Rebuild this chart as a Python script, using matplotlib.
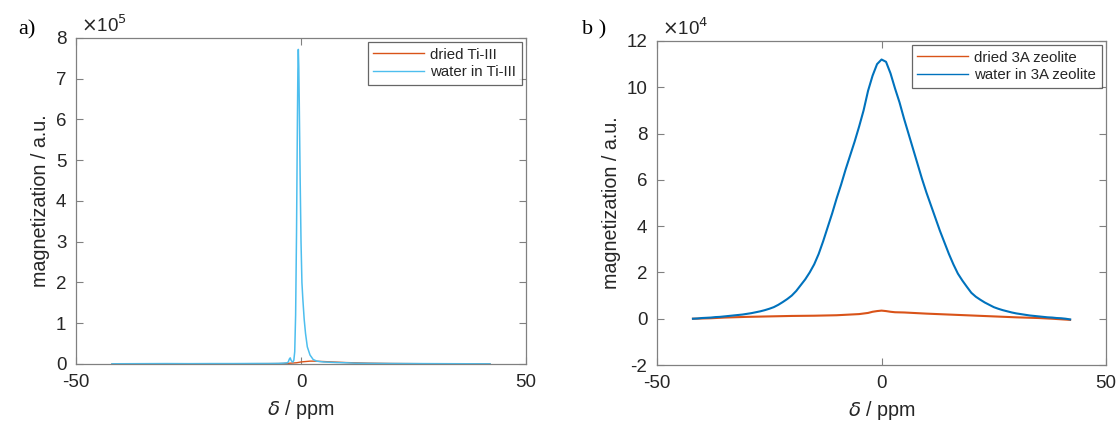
import matplotlib
matplotlib.use("Agg")
import matplotlib.pyplot as plt

# ---------------- data ----------------
# Panel a (units of 1e5)
a_water_x = [-42, -35, -30, -25, -20, -15, -10, -7, -5, -4, -3, -2.8, -2.6, -2.4, -2.2, -2.0, -1.8, -1.6,
             -1.4, -1.2, -1.0, -0.8, -0.7, -0.6, -0.5, -0.4, -0.2, 0.0, 0.2, 0.4, 0.7, 1.0, 1.4, 2.0,
             2.7, 3.5, 4.2, 5.0, 6.0, 8.0, 10, 12, 16, 20, 25, 30, 35, 42]
a_water_y = [0.005, 0.008, 0.01, 0.008, 0.01, 0.01, 0.012, 0.012, 0.015, 0.02, 0.03, 0.06, 0.12, 0.15, 0.09,
             0.06, 0.05, 0.09, 0.3, 1.2, 3.2, 6.0, 7.2, 7.72, 7.3, 6.5, 4.6, 3.0, 2.0, 1.6, 1.1, 0.75, 0.42,
             0.22, 0.11, 0.07, 0.06, 0.05, 0.045, 0.035, 0.03, 0.02, 0.015, 0.012, 0.01, 0.008, 0.006, 0.004]
a_dried_x = [-42, -30, -20, -10, -5, -3, -1, 0, 1, 2, 3, 5, 7, 10, 15, 20, 30, 42]
a_dried_y = [0.0, 0.003, 0.005, 0.008, 0.01, 0.015, 0.03, 0.05, 0.06, 0.07, 0.07, 0.06, 0.05, 0.035, 0.02,
             0.012, 0.005, 0.0]

# Panel b (units of 1e4), sampled every 1 ppm from -42 to 42
b_water_x = list(range(-42, 43))
b_water_y = [0.0, 0.01, 0.03, 0.04, 0.05, 0.07, 0.08, 0.1, 0.12, 0.14, 0.16, 0.18, 0.21, 0.24, 0.28,
             0.32, 0.37, 0.43, 0.5, 0.6, 0.72, 0.85, 1.0, 1.2, 1.45, 1.7, 2.0, 2.35, 2.8, 3.35, 3.95,
             4.55, 5.2, 5.8, 6.45, 7.05, 7.65, 8.3, 9.0, 9.85, 10.5, 11.0, 11.2, 11.1, 10.6, 9.95,
             9.35, 8.65, 8.0, 7.35, 6.7, 6.05, 5.45, 4.9, 4.35, 3.8, 3.3, 2.8, 2.35, 1.95, 1.65, 1.38,
             1.12, 0.95, 0.82, 0.7, 0.6, 0.5, 0.43, 0.37, 0.32, 0.27, 0.23, 0.2, 0.17, 0.14, 0.12, 0.1,
             0.08, 0.06, 0.05, 0.03, 0.02, 0.0, -0.03]
b_dried_x = [-42, -38, -35, -30, -25, -20, -15, -10, -5, -3, -2, -1, 0, 1, 2, 3, 5, 10, 15, 20, 25, 30,
             35, 38, 42]
b_dried_y = [0.0, 0.02, 0.05, 0.08, 0.1, 0.12, 0.13, 0.15, 0.2, 0.25, 0.3, 0.33, 0.35, 0.33, 0.3, 0.28,
             0.27, 0.22, 0.18, 0.14, 0.1, 0.06, 0.03, 0.0, -0.05]

a_yticks = [0, 1, 2, 3, 4, 5, 6, 7, 8]
b_yticks = [-2, 0, 2, 4, 6, 8, 10, 12]
x_ticks = [-50, 0, 50]

# ---------------- style ----------------
ORANGE = (0.85, 0.325, 0.098)
LIGHTBLUE = (0.301, 0.745, 0.933)
BLUE = (0.0, 0.447, 0.741)
FRAME = "#808080"
TXT = "#262626"
SANS = "Liberation Sans"
SERIF = "Liberation Serif"

plt.rcParams["font.family"] = SANS

fig = plt.figure(figsize=(11.18, 4.23), dpi=100)
fig.patch.set_facecolor("white")

axA = fig.add_axes([0.068, 0.1395, 0.4025, 0.7707])
axB = fig.add_axes([0.5877, 0.1371, 0.4016, 0.766])


def style(ax, yticks, ylim, exp):
    ax.set_xlim(-50, 50)
    ax.set_ylim(*ylim)
    ax.set_xticks(x_ticks)
    ax.set_xticklabels([str(t) for t in x_ticks])
    ax.set_yticks(yticks)
    ax.set_yticklabels([str(t) for t in yticks])
    ax.tick_params(direction="in", top=True, right=True, length=5, width=0.8,
                   colors=FRAME, labelcolor=TXT, labelsize=13.5)
    ax.tick_params(axis="x", pad=7)
    ax.tick_params(axis="y", pad=7)
    for s in ax.spines.values():
        s.set_color(FRAME)
        s.set_linewidth(0.9)
    ax.set_ylabel("magnetization / a.u.", fontsize=14.2, color=TXT, labelpad=4)
    ax.set_xlabel(r"$\delta$ / ppm", fontsize=14.2, color=TXT, labelpad=5)
    ax.text(0.01, 1.005, r"$\times$10$^{%d}$" % exp, transform=ax.transAxes,
            fontsize=13.5, color=TXT, ha="left", va="bottom")


axA.plot(a_dried_x, a_dried_y, color=ORANGE, lw=1.0, label="dried Ti-III")
axA.plot(a_water_x, a_water_y, color=LIGHTBLUE, lw=1.1, label="water in Ti-III")
style(axA, a_yticks, (0, 8), 5)

axB.plot(b_dried_x, b_dried_y, color=ORANGE, lw=1.5, label="dried 3A zeolite")
axB.plot(b_water_x, b_water_y, color=BLUE, lw=1.5, label="water in 3A zeolite")
style(axB, b_yticks, (-2, 12), 4)

for ax in (axA, axB):
    leg = ax.legend(loc="upper right", fontsize=10.8, frameon=True, fancybox=False,
                    handlelength=3.4, handletextpad=0.4, borderaxespad=0.3,
                    borderpad=0.35, labelspacing=0.25)
    leg.get_frame().set_edgecolor("#404040")
    leg.get_frame().set_linewidth(0.9)
    for t in leg.get_texts():
        t.set_color(TXT)
    for l in leg.get_lines():
        l.set_linewidth(1.0)

fig.text(18 / 1118, 1 - 30 / 423, "a)", fontsize=16, family=SERIF, ha="left", va="center", color="black")
fig.text(582 / 1118, 1 - 30 / 423, "b )", fontsize=16, family=SERIF, ha="left", va="center", color="black")

fig.savefig("out.png", dpi=100, facecolor="white")
